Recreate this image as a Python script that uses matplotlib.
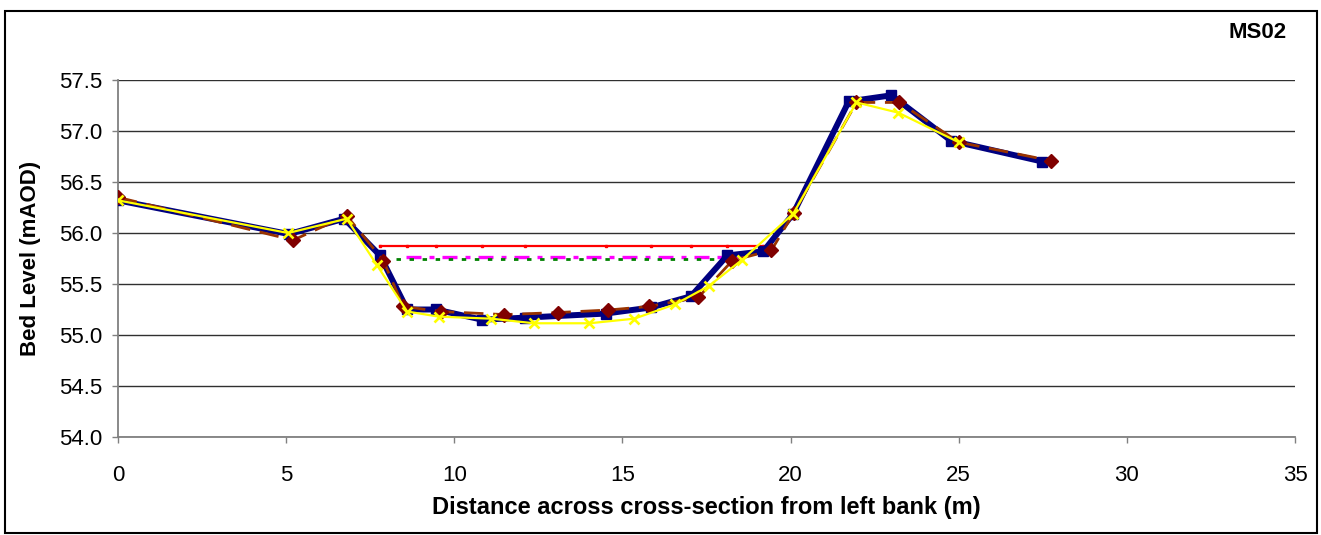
import matplotlib
matplotlib.use("Agg")
import matplotlib.pyplot as plt
from matplotlib.patches import Rectangle

plt.rcParams['font.family'] = ['Liberation Sans', 'DejaVu Sans']

# Surveyed bed profile (navy squares)
survey_x = [0.0, 5.08, 6.73, 7.79, 8.6, 9.45, 10.83, 12.1, 14.5, 15.85, 17.04,
            18.12, 19.19, 20.08, 21.73, 23.0, 24.77, 27.49]
survey_y = [56.32, 55.99, 56.14, 55.78, 55.25, 55.25, 55.15, 55.17, 55.21, 55.27,
            55.38, 55.78, 55.82, 56.19, 57.29, 57.35, 56.905, 56.70]

# Second survey (dark red diamonds, dashed)
survey2_x = [0.0, 5.21, 6.8, 7.89, 8.48, 9.6, 11.49, 13.07, 14.58, 15.8, 17.26,
             18.27, 19.43, 20.1, 21.96, 23.23, 25.0, 27.73]
survey2_y = [56.35, 55.93, 56.17, 55.73, 55.28, 55.23, 55.20, 55.22, 55.245, 55.28,
             55.37, 55.73, 55.83, 56.2, 57.28, 57.28, 56.89, 56.71]

# Third survey (yellow crosses)
survey3_x = [0.0, 5.06, 6.8, 7.69, 8.6, 9.54, 11.1, 12.37, 14.02, 15.35, 16.56,
             17.57, 18.57, 20.08, 21.96, 23.2, 25.0]
survey3_y = [56.32, 56.0, 56.14, 55.69, 55.23, 55.18, 55.16, 55.115, 55.115, 55.16,
             55.3, 55.48, 55.74, 56.19, 57.28, 57.18, 56.89]

# Water levels
wl1_x = survey_x[3:13]
wl1_y = [55.873] * len(wl1_x)
wl2_x = [8.57, 18.58]
wl2_y = [55.762, 55.762]
wl3_x = [8.27, 18.2]
wl3_y = [55.742, 55.742]

x_ticks = [0, 5, 10, 15, 20, 25, 30, 35]
y_ticks = [54.0, 54.5, 55.0, 55.5, 56.0, 56.5, 57.0, 57.5]
section_name = "MS02"

W, H = 1321, 535
fig = plt.figure(figsize=(W / 100, H / 100), dpi=100)
ax = fig.add_axes([118 / W, 1 - 437 / H, (1295 - 118) / W, (437 - 80) / H])

ax.plot(wl1_x, wl1_y, color='#FF0000', lw=1.6, marker='s', markersize=2,
        zorder=2)
ax.plot(wl2_x, wl2_y, color='#FF00FF', lw=2.4,
        linestyle=(0, (4.5, 2.4, 1.5, 2.4)), zorder=2)
ax.plot(wl3_x, wl3_y, color='#008000', lw=2.0,
        linestyle=(0, (1.6, 3.1)), zorder=2)

ax.plot(survey_x, survey_y, color='#000080', lw=4.3, marker='s', markersize=7.5,
        zorder=3)
ax.plot(survey2_x, survey2_y, color='#993300', lw=2.0, linestyle=(0, (7, 3.5)),
        zorder=4)
ax.plot(survey2_x, survey2_y, linestyle='none', marker='D', markersize=7.5,
        color='#800000', zorder=4)
ax.plot(survey3_x, survey3_y, color='#FFFF00', lw=1.6, marker='x', markersize=6.5,
        markeredgewidth=1.9, zorder=5)

ax.set_xlim(0, 35)
ax.set_ylim(54.0, 57.5)
ax.set_xticks(x_ticks)
ax.set_yticks(y_ticks)
ax.set_yticklabels([f"{v:.1f}" for v in y_ticks])
ax.grid(axis='y', color='#303030', lw=1.0, zorder=1)
ax.set_axisbelow(True)

for side in ('top', 'right'):
    ax.spines[side].set_visible(False)
for side in ('left', 'bottom'):
    ax.spines[side].set_color('#808080')
    ax.spines[side].set_linewidth(1.3)

ax.tick_params(axis='x', direction='out', length=4, width=1, color='#808080',
               labelsize=16, pad=16)
ax.tick_params(axis='y', direction='out', length=4.5, width=1, color='#808080',
               labelsize=16, pad=7)

ax.set_xlabel("Distance across cross-section from left bank (m)",
              fontsize=17, fontweight='bold')
ax.set_ylabel("Bed Level (mAOD)", fontsize=16, fontweight='bold')
ax.xaxis.set_label_coords(0.5, -(496 - 437) / (437 - 80))
ax.yaxis.set_label_coords(-(118 - 41) / (1295 - 118), 0.5)

fig.text(1287 / W, 1 - 32.5 / H, section_name, ha='right', va='center',
         fontsize=16, fontweight='bold')

fig.patches.append(Rectangle((5 / W, 1 - 533 / H), (1317 - 5) / W, (533 - 11) / H,
                             transform=fig.transFigure, fill=False,
                             edgecolor='black', lw=1.5))

fig.savefig("out.png", dpi=100)
